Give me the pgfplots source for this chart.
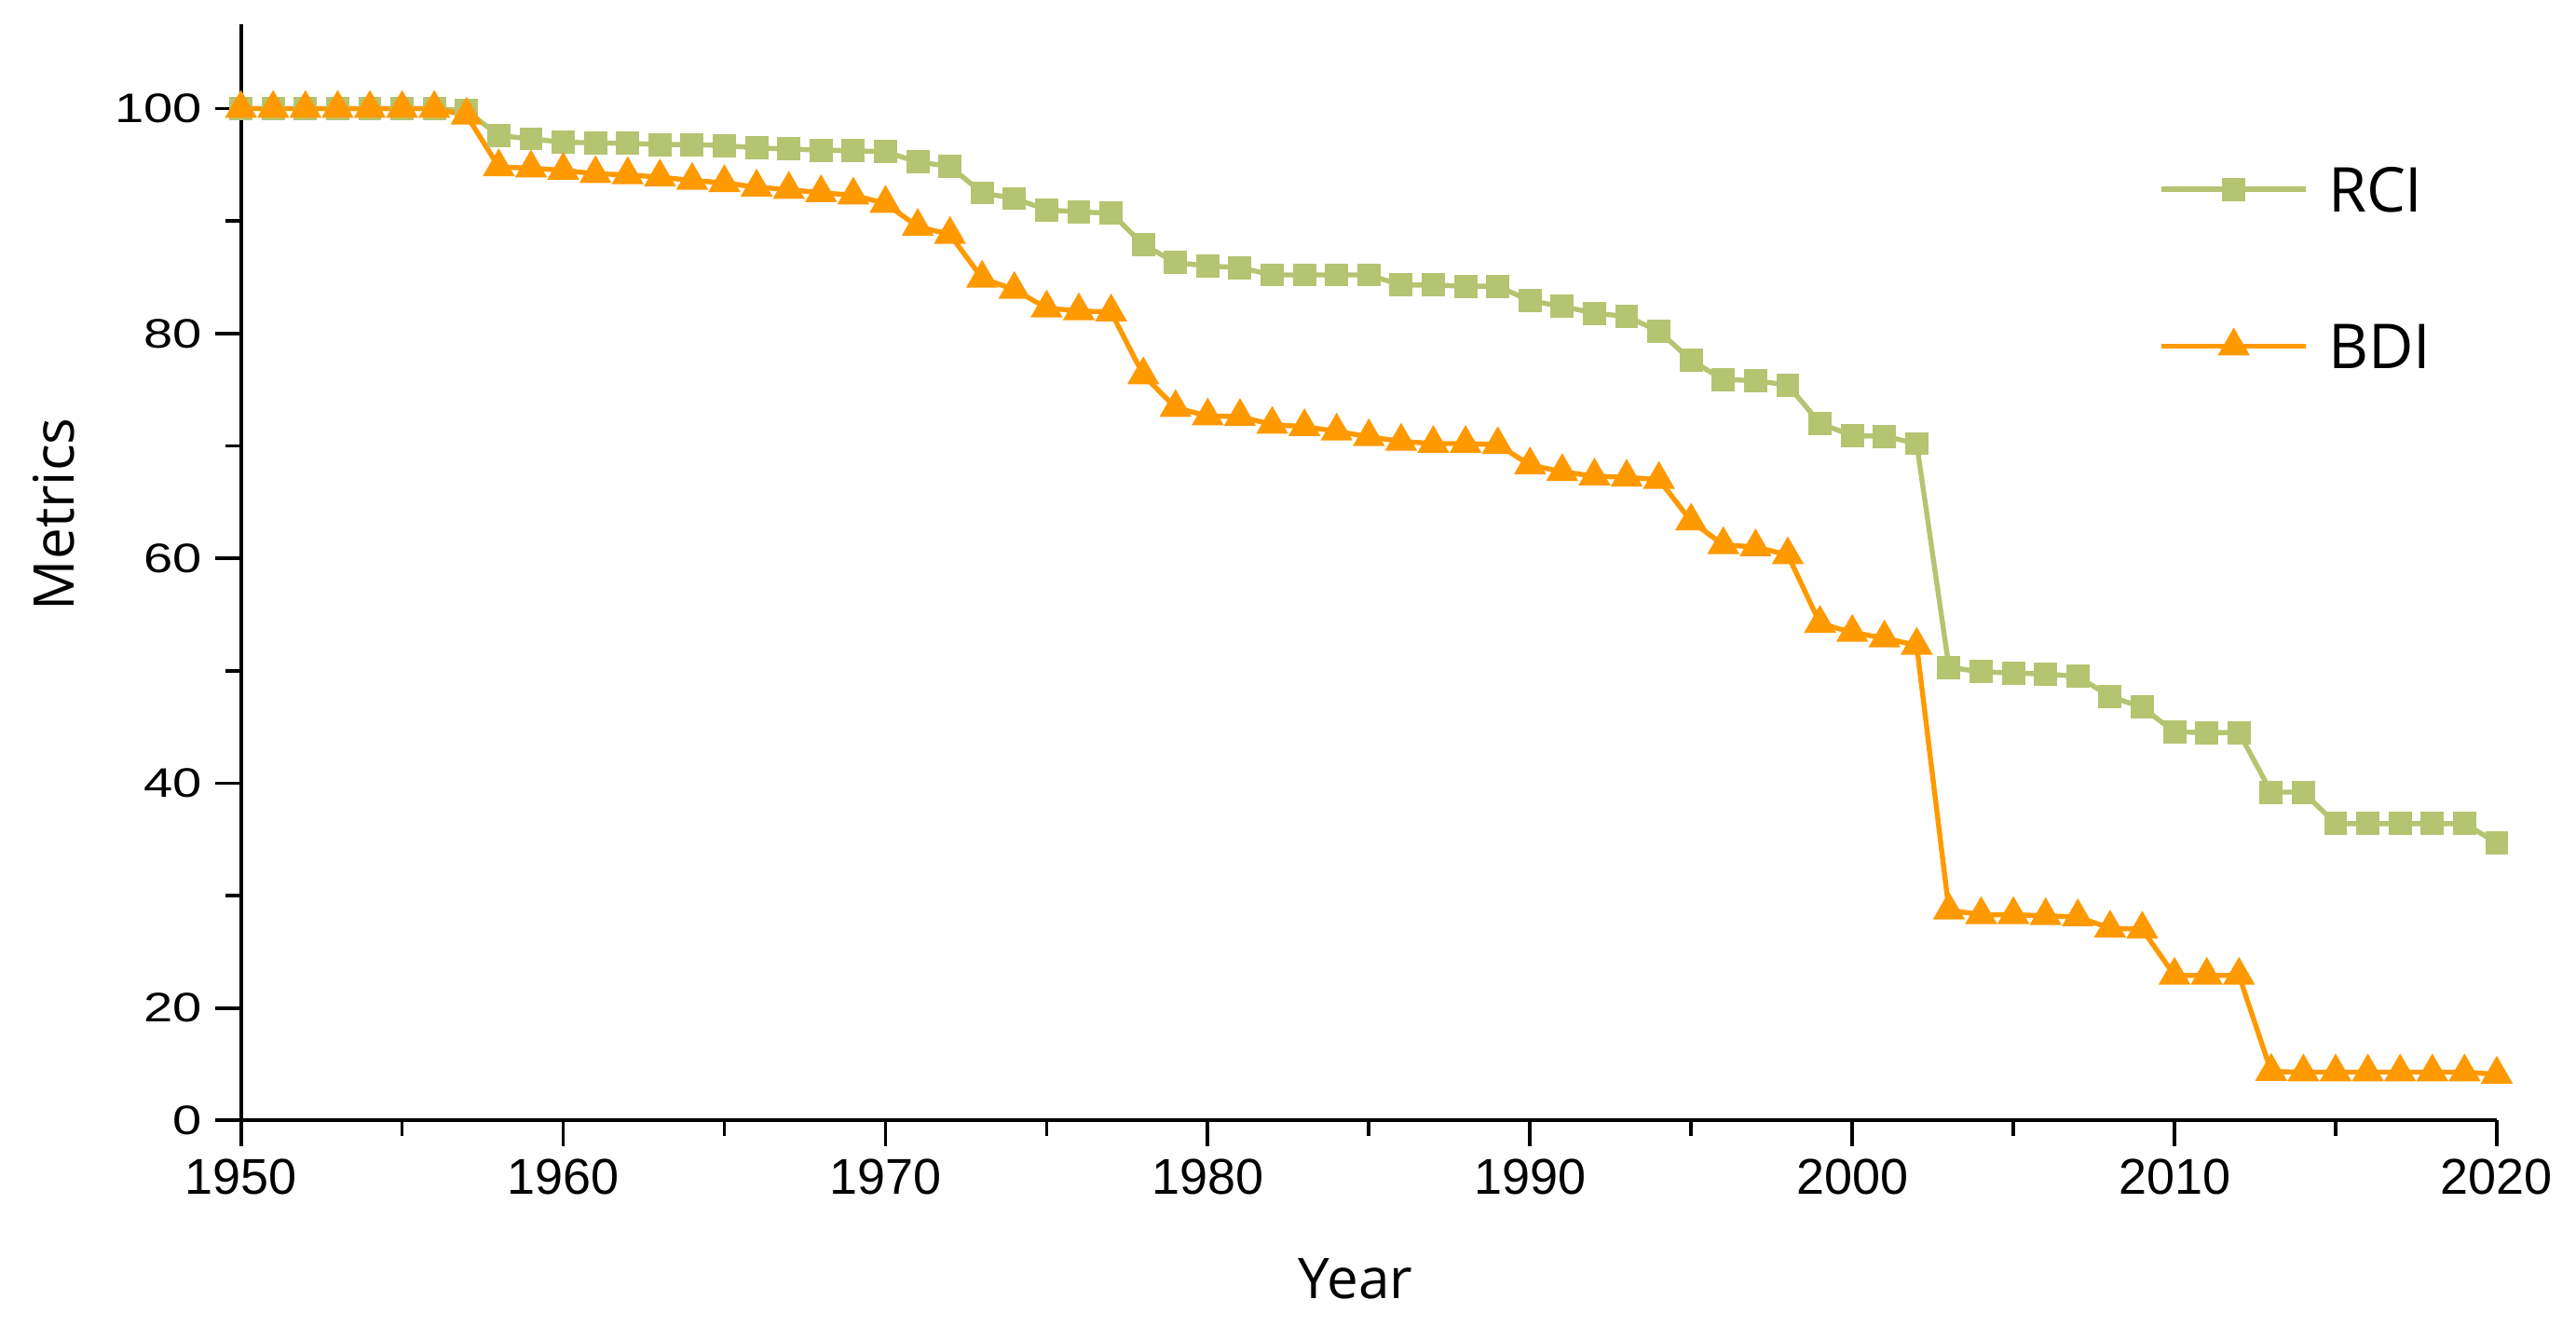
\documentclass[border=0pt]{standalone}
\usepackage{fontspec}
\setmainfont{Liberation Sans}
\newfontfamily\labelfont{Open Sans}
\usepackage{pgfplots}
\pgfplotsset{compat=1.18}
\definecolor{rcigreen}{RGB}{181,196,112}
\definecolor{bdiorange}{RGB}{255,153,0}

\pgfplotstableread{
year rci
1950 100
1951 100
1952 100
1953 100
1954 100
1955 100
1956 100
1957 99.8
1958 97.6
1959 97.3
1960 97.0
1961 96.95
1962 96.9
1963 96.8
1964 96.8
1965 96.7
1966 96.5
1967 96.4
1968 96.3
1969 96.25
1970 96.15
1971 95.25
1972 94.85
1973 92.5
1974 92.0
1975 91.0
1976 90.8
1977 90.7
1978 87.9
1979 86.3
1980 86.0
1981 85.85
1982 85.2
1983 85.2
1984 85.2
1985 85.2
1986 84.3
1987 84.3
1988 84.2
1989 84.2
1990 82.9
1991 82.4
1992 81.8
1993 81.5
1994 80.2
1995 77.6
1996 75.9
1997 75.8
1998 75.4
1999 72.0
2000 70.9
2001 70.85
2002 70.2
2003 50.3
2004 49.9
2005 49.8
2006 49.7
2007 49.5
2008 47.7
2009 46.75
2010 44.55
2011 44.5
2012 44.5
2013 39.2
2014 39.2
2015 36.4
2016 36.4
2017 36.4
2018 36.4
2019 36.4
2020 34.7
}\rcitable

\pgfplotstableread{
year bdi
1950 100
1951 100
1952 100
1953 100
1954 100
1955 100
1956 100
1957 99.4
1958 94.8
1959 94.7
1960 94.5
1961 94.2
1962 94.1
1963 93.9
1964 93.6
1965 93.4
1966 93.0
1967 92.8
1968 92.5
1969 92.3
1970 91.55
1971 89.5
1972 88.8
1973 84.9
1974 83.9
1975 82.25
1976 82.0
1977 81.9
1978 76.3
1979 73.4
1980 72.65
1981 72.6
1982 71.9
1983 71.7
1984 71.3
1985 70.8
1986 70.4
1987 70.2
1988 70.2
1989 70.1
1990 68.3
1991 67.7
1992 67.3
1993 67.2
1994 67.0
1995 63.3
1996 61.2
1997 61.0
1998 60.3
1999 54.2
2000 53.4
2001 52.9
2002 52.25
2003 28.7
2004 28.3
2005 28.3
2006 28.2
2007 28.1
2008 27.1
2009 27.0
2010 22.9
2011 22.9
2012 22.9
2013 14.35
2014 14.3
2015 14.3
2016 14.3
2017 14.3
2018 14.3
2019 14.3
2020 14.1
}\bditable

\begin{document}
\begin{tikzpicture}
\useasboundingbox (0,0) rectangle (234.1mm,120.5mm);
\begin{axis}[
  at={(21.9mm,18.7mm)}, anchor=south west,
  width=205mm, height=99.6mm, scale only axis,
  xmin=1950, xmax=2020, ymin=10, ymax=107.5,
  axis lines=left,
  axis line style={-, line width=1pt, black},
  xtick={1950,1960,...,2020}, minor x tick num=1,
  ytick={10,20,40,60,80,100},
  yticklabels={\scalebox{1.04}[0.82]{0},\scalebox{1.04}[0.82]{20},\scalebox{1.04}[0.82]{40},\scalebox{1.04}[0.82]{60},\scalebox{1.04}[0.82]{80},\scalebox{1.04}[0.82]{100}},
  minor ytick={30,50,70,90},
  tick align=outside,
  major tick length=2.3mm, minor tick length=1.4mm,
  every tick/.style={black, line width=0.9pt},
  /pgf/number format/assume math mode=true,
  xticklabel style={font=\fontsize{13}{15}\selectfont, /pgf/number format/1000 sep={}},
  yticklabel style={font=\fontsize{13}{15}\selectfont},
  xlabel={Year},
  ylabel={Metrics},
  xlabel style={font=\labelfont\fontsize{14.5}{17}\selectfont, at={(axis description cs:0.494,-0.1626)}, anchor=base},
  ylabel style={font=\labelfont\fontsize{14.5}{17}\selectfont, at={(axis description cs:-0.083,0.553)}, anchor=center},
  clip=false,
  legend style={at={(axis description cs:0.850,0.778)}, anchor=west, draw=none, fill=none,
    inner sep=0pt, row sep=10.2mm, column sep=1.8mm,
    font=\labelfont\fontsize{16}{19}\selectfont,
    nodes={inner sep=0pt, text depth=0pt}},
  legend cell align=left,
  legend image code/.code={\draw[#1, mark repeat=2, mark phase=2] plot coordinates {(0mm,0mm) (6.55mm,0mm) (13.1mm,0mm)};},
]
\addplot[color=rcigreen, line width=1.3pt, mark=square*, mark size=2.8pt,
  mark options={solid, line width=0.4pt, fill=rcigreen, draw=rcigreen}]
  table[x=year, y=rci] {\rcitable};
\addlegendentry{RCI}
\addplot[color=bdiorange, line width=1.3pt, mark=triangle*, mark size=4.4pt,
  mark options={solid, line width=0.4pt, fill=bdiorange, draw=bdiorange}]
  table[x=year, y=bdi] {\bditable};
\addlegendentry{BDI}
\end{axis}
\end{tikzpicture}
\end{document}
